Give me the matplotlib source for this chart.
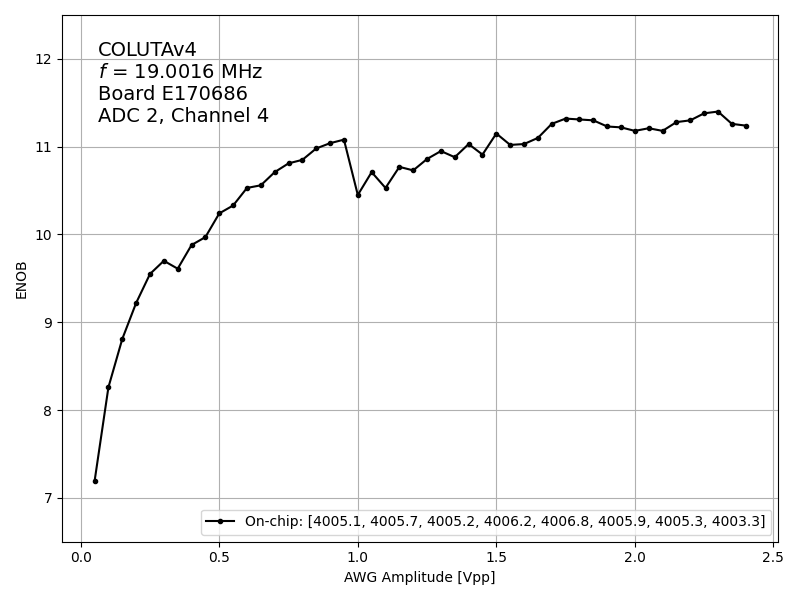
import matplotlib

matplotlib.use("Agg")
import matplotlib.pyplot as plt

# AWG 幅度 [Vpp] 与对应 ENOB
amplitude = [
    0.05, 0.10, 0.15, 0.20, 0.25, 0.30, 0.35, 0.40, 0.45, 0.50,
    0.55, 0.60, 0.65, 0.70, 0.75, 0.80, 0.85, 0.90, 0.95, 1.00,
    1.05, 1.10, 1.15, 1.20, 1.25, 1.30, 1.35, 1.40, 1.45, 1.50,
    1.55, 1.60, 1.65, 1.70, 1.75, 1.80, 1.85, 1.90, 1.95, 2.00,
    2.05, 2.10, 2.15, 2.20, 2.25, 2.30, 2.35, 2.40,
]
enob = [
    7.19, 8.26, 8.81, 9.22, 9.55, 9.70, 9.61, 9.88, 9.97, 10.24,
    10.33, 10.53, 10.56, 10.71, 10.81, 10.85, 10.98, 11.04, 11.08, 10.45,
    10.71, 10.53, 10.77, 10.73, 10.86, 10.95, 10.88, 11.03, 10.91, 11.15,
    11.02, 11.03, 11.10, 11.26, 11.32, 11.31, 11.30, 11.23, 11.22, 11.18,
    11.21, 11.18, 11.28, 11.30, 11.38, 11.40, 11.26, 11.24,
]
weights = [4005.1, 4005.7, 4005.2, 4006.2, 4006.8, 4005.9, 4005.3, 4003.3]
info_lines = ["COLUTAv4", "$f$ = 19.0016 MHz", "Board E170686", "ADC 2, Channel 4"]

fig, ax = plt.subplots(figsize=(8, 6), dpi=100)
ax.plot(amplitude, enob, "k.-", label=f"On-chip: [{', '.join(str(w) for w in weights)}]")
ax.set_xlabel("AWG Amplitude [Vpp]")
ax.set_ylabel("ENOB")
ax.set_ylim(6.5, 12.5)
ax.grid(True)
ax.legend(loc="lower right")
ax.text(0.05, 0.95, "\n".join(info_lines), transform=ax.transAxes,
        fontsize=14, va="top", ha="left")
fig.tight_layout()
fig.savefig("out.png", dpi=100)
